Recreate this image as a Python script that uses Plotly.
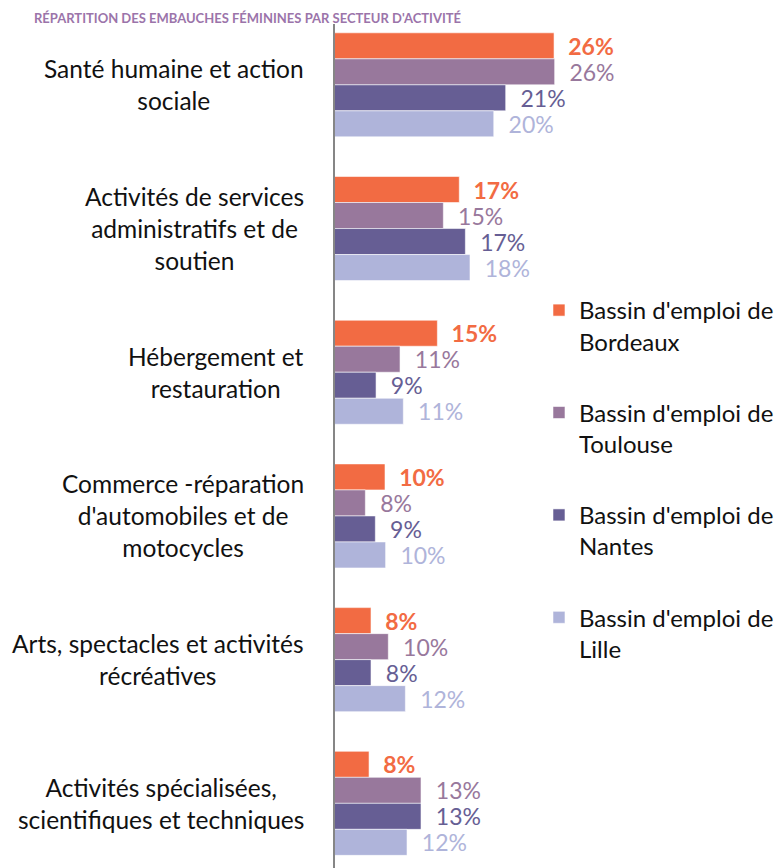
import plotly.graph_objects as go

# ---- data (percent of female hires by sector) ----
categories = [
    "Santé humaine et action sociale",
    "Activités de services administratifs et de soutien",
    "Hébergement et restauration",
    "Commerce -réparation d'automobiles et de motocycles",
    "Arts, spectacles et activités récréatives",
    "Activités spécialisées, scientifiques et techniques",
]
category_labels = [
    "Santé humaine et action<br>sociale",
    "Activités de services<br>administratifs et de<br>soutien",
    "Hébergement et<br>restauration",
    "Commerce -réparation<br>d'automobiles et de<br>motocycles",
    "Arts, spectacles et activités<br>récréatives",
    "Activités spécialisées,<br>scientifiques et techniques",
]
series_names = [
    "Bassin d'emploi de<br>Bordeaux",
    "Bassin d'emploi de<br>Toulouse",
    "Bassin d'emploi de<br>Nantes",
    "Bassin d'emploi de<br>Lille",
]
bordeaux = [25.97, 16.76, 14.63, 9.54, 8.18, 7.99]
toulouse = [26.03, 15.21, 11.0, 7.63, 9.86, 13.04]
nantes = [21.27, 17.35, 8.67, 8.6, 8.18, 13.04]
lille = [20.11, 17.8, 11.32, 9.6, 11.52, 11.68]

title_text = "RÉPARTITION DES EMBAUCHES FÉMININES PAR SECTEUR D'ACTIVITÉ"

colors = ["#F26B43", "#98789C", "#665E94", "#AFB4DA"]
FONT = "Lato"

fig = go.Figure()
for i, (name, vals, col) in enumerate(zip(series_names, [bordeaux, toulouse, nantes, lille], colors)):
    fig.add_trace(go.Bar(
        y=categories, x=vals, orientation="h", name=name,
        marker=dict(color=col, line=dict(color="rgba(255,255,255,0.7)", width=0.8)),
        texttemplate="\u00a0\u00a0%{x:.0f}%", textposition="outside",
        constraintext="none", cliponaxis=False,
        textfont=dict(family=FONT, size=23, color=col, weight="bold" if i == 0 else "normal"),
        legendgroup=str(i), hoverinfo="skip",
    ))

annotations = []
for cat, lab in zip(categories, category_labels):
    annotations.append(dict(
        x=-0.0646, xref="paper", y=cat, yref="y", text=lab, showarrow=False,
        xanchor="right", yanchor="middle", align="center",
        font=dict(family=FONT, size=24.5, color="#111111"),
    ))
annotations.append(dict(
    x=-0.675, xref="paper", y=1.019, yref="paper", text="<b>" + title_text + "</b>",
    showarrow=False, xanchor="left", yanchor="top",
    font=dict(family=FONT, size=13, color="#9B74AA"),
))

fig.update_layout(
    width=776, height=860,
    margin=dict(l=327, r=0, t=16, b=0),
    paper_bgcolor="white", plot_bgcolor="white",
    barmode="group", bargap=0.276, bargroupgap=0,
    showlegend=True,
    legend=dict(
        x=0.4543, y=0.6872, xanchor="left", yanchor="top",
        traceorder="grouped", tracegroupgap=37, valign="top",
        font=dict(family=FONT, size=24, color="#111111"),
        bgcolor="rgba(0,0,0,0)",
    ),
    xaxis=dict(range=[4.68, 48.32], visible=False, fixedrange=True),
    yaxis=dict(
        categoryorder="array", categoryarray=categories,
        range=[5.45, -0.4234], showticklabels=False, ticks="",
        showline=True, linecolor="#868686", linewidth=2,
        showgrid=False, zeroline=False, fixedrange=True,
    ),
    annotations=annotations,
)

fig.write_html("out.html")
